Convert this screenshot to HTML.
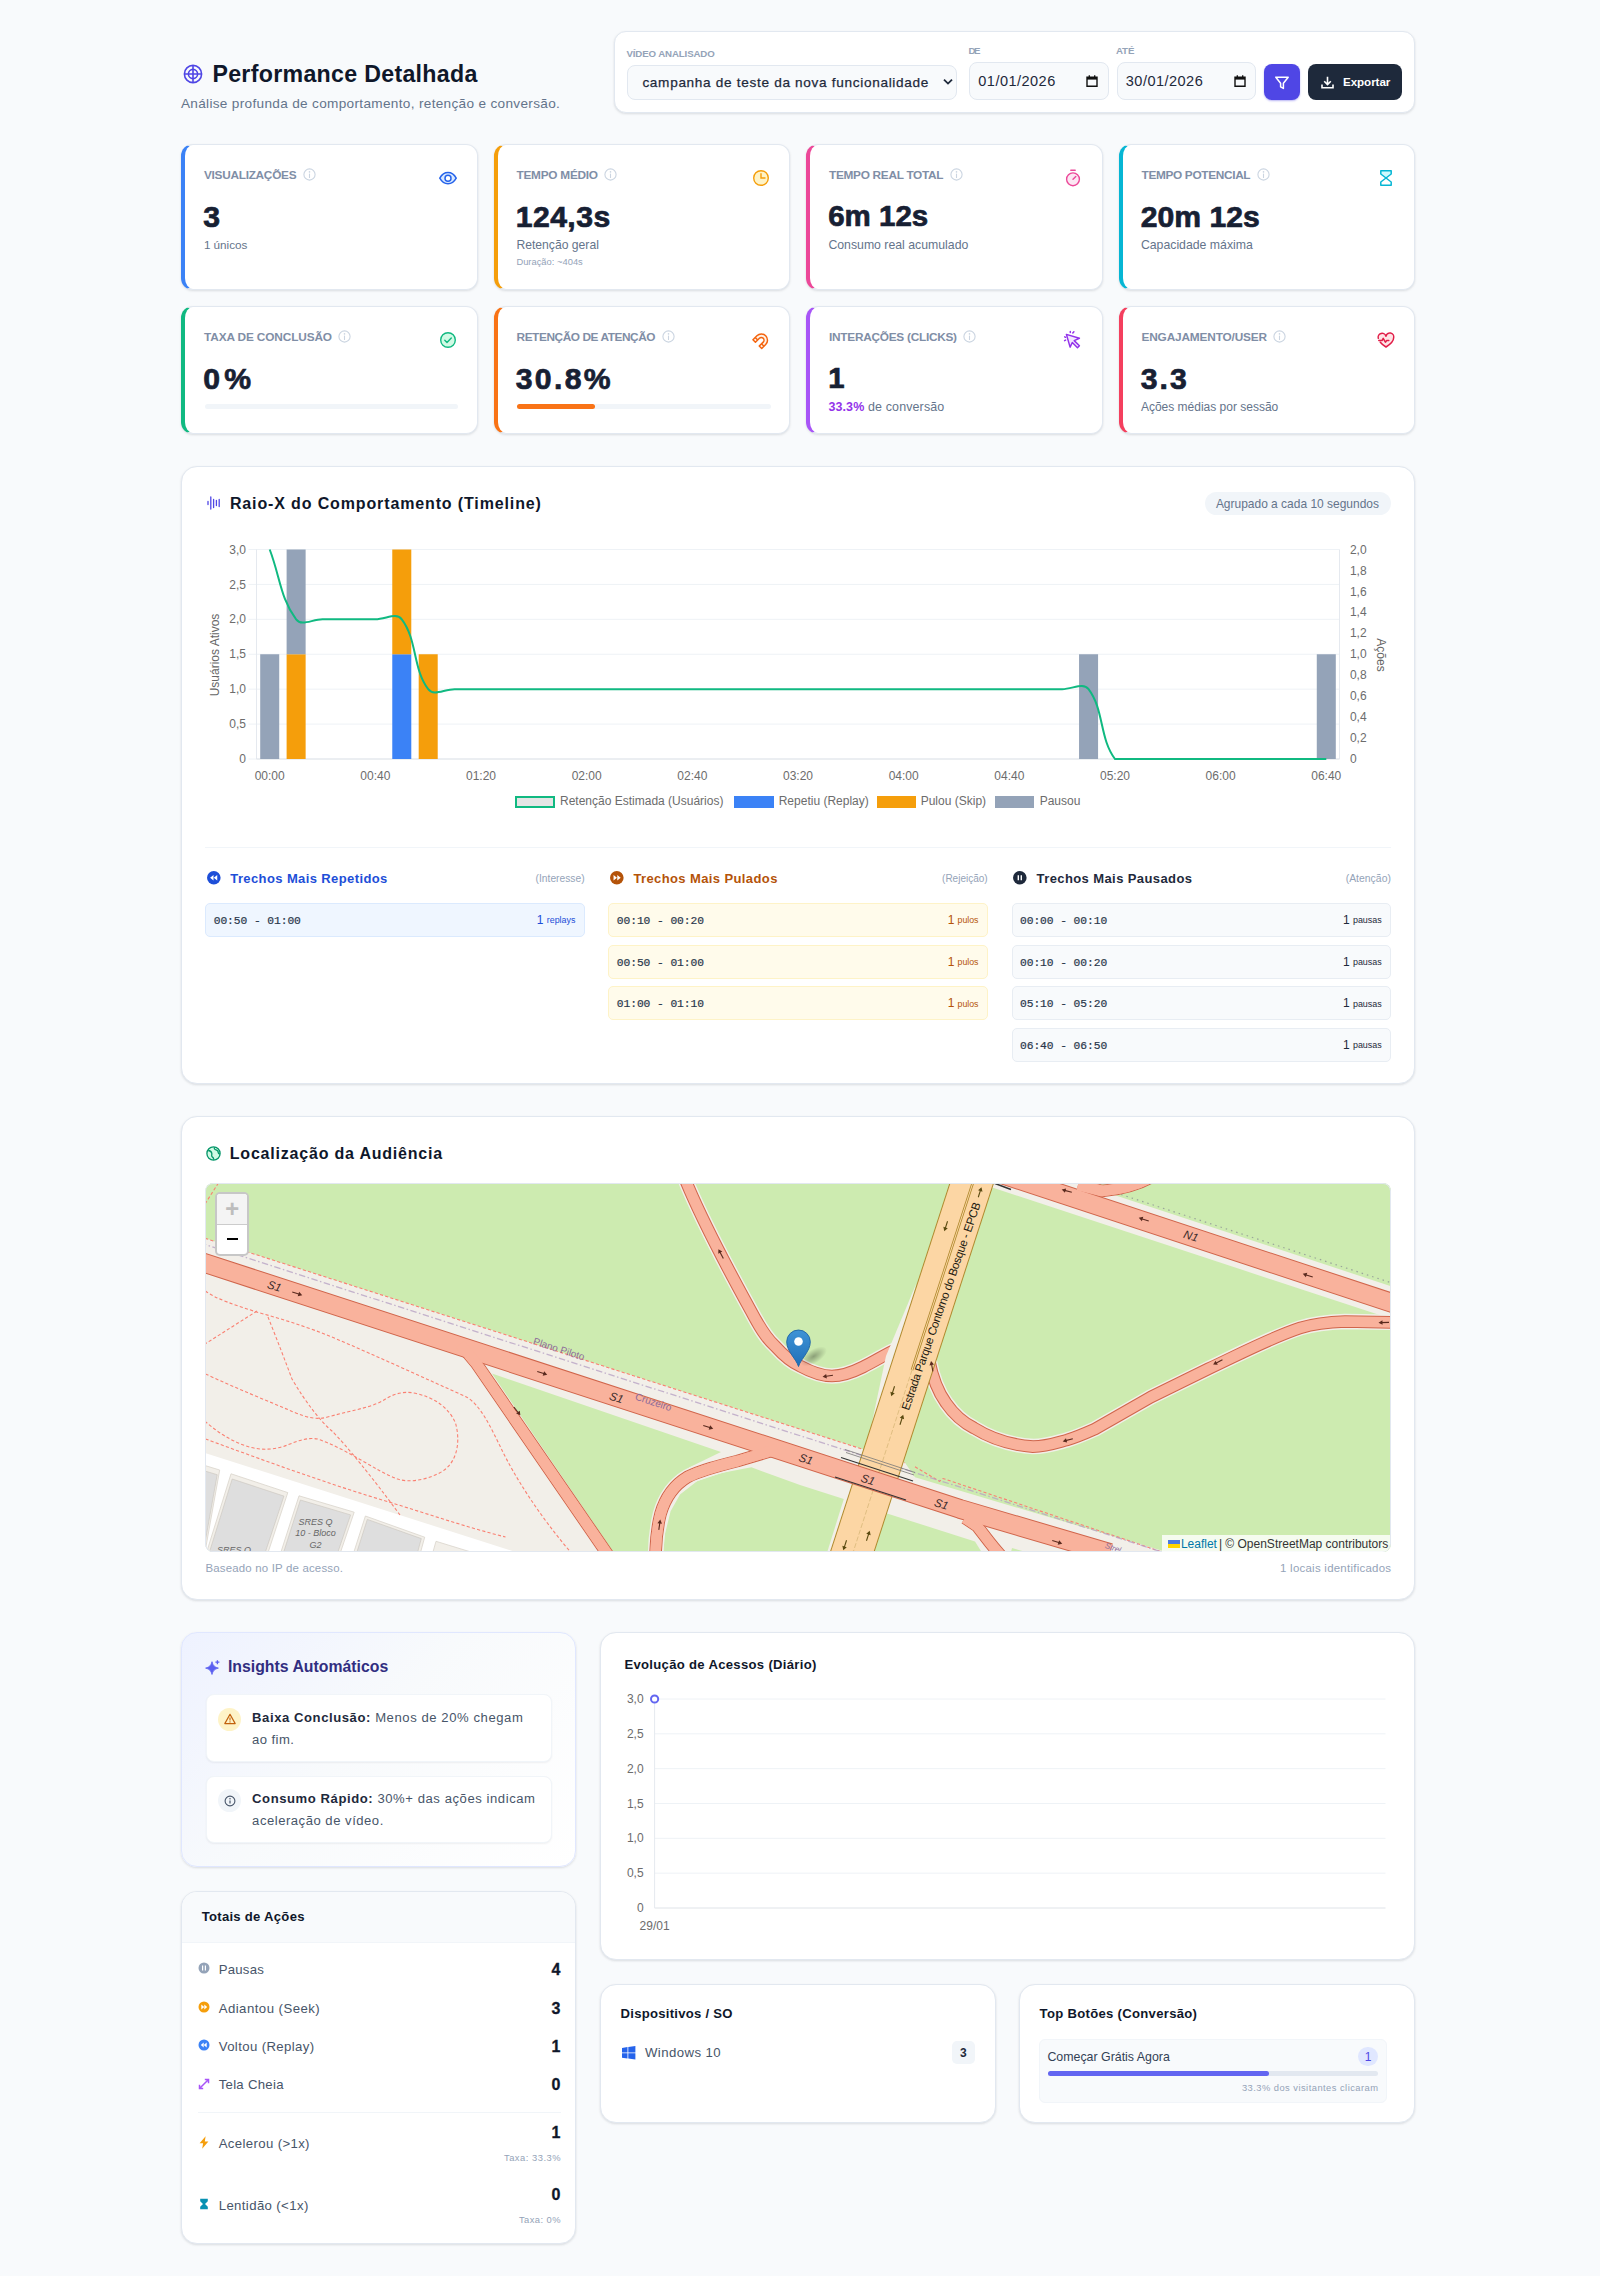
<!DOCTYPE html>
<html lang="pt-BR"><head><meta charset="utf-8"><title>Performance Detalhada</title>
<style>
html,body{margin:0;padding:0}
body{width:1600px;height:2276px;position:relative;overflow:hidden;background:#f8fafc;font-family:"Liberation Sans",sans-serif;color:#0f172a}
.card{position:absolute;box-sizing:border-box;background:#fff;border:1px solid #e2e8f0;box-shadow:0 1px 3px rgba(15,23,42,.08),0 1px 2px rgba(15,23,42,.05)}
svg{overflow:visible}
</style></head><body>
<svg style="position:absolute;left:183.00px;top:64.00px;" width="20" height="20" viewBox="0 0 20 20"><g fill="none" stroke="#4f46e5" stroke-width="1.6"><circle cx="10" cy="10" r="8.6"/><circle cx="10" cy="10" r="4.6"/><path d="M10 1v18M1 10h18"/></g></svg>
<div style="position:absolute;white-space:nowrap;top:58.11px;font:700 23.20px/32px 'Liberation Sans',sans-serif;color:#0f172a;letter-spacing:0.298px;left:212.40px;">Performance Detalhada</div>
<div style="position:absolute;white-space:nowrap;top:94.08px;font:400 13.60px/19px 'Liberation Sans',sans-serif;color:#64748b;letter-spacing:0.323px;left:180.90px;">Análise profunda de comportamento, retenção e conversão.</div>
<div class="card" style="left:614px;top:31px;width:801px;height:82px;border-radius:12px"></div>
<div style="position:absolute;white-space:nowrap;top:47.08px;font:700 9.70px/14px 'Liberation Sans',sans-serif;color:#94a3b8;letter-spacing:-0.120px;left:626.40px;">VÍDEO ANALISADO</div>
<div style="position:absolute;left:627.00px;top:65.00px;width:330.00px;height:35.00px;box-sizing:border-box;background:#f8fafc;border:1px solid #e2e8f0;border-radius:8px"></div>
<div style="position:absolute;white-space:nowrap;top:73.48px;font:500 13.60px/19px 'Liberation Sans',sans-serif;color:#1e293b;letter-spacing:0.686px;left:642.40px;-webkit-text-stroke:.25px #1e293b;">campanha de teste da nova funcionalidade</div>
<svg style="position:absolute;left:943.40px;top:78.40px;" width="10" height="8" viewBox="0 0 10 8"><path d="M1 1.600l4 4 4-4" fill="none" stroke="#1e293b" stroke-width="1.800"/></svg>
<div style="position:absolute;white-space:nowrap;top:44.08px;font:700 9.70px/14px 'Liberation Sans',sans-serif;color:#94a3b8;letter-spacing:-1.289px;left:968.40px;">DE</div>
<div style="position:absolute;white-space:nowrap;top:44.08px;font:700 9.70px/14px 'Liberation Sans',sans-serif;color:#94a3b8;letter-spacing:-0.094px;left:1115.90px;">ATÉ</div>
<div style="position:absolute;left:969.00px;top:62.00px;width:139.50px;height:38.00px;box-sizing:border-box;background:#f8fafc;border:1px solid #e2e8f0;border-radius:8px"></div>
<div style="position:absolute;white-space:nowrap;top:71.21px;font:400 14.56px/20px 'Liberation Sans',sans-serif;color:#1e293b;letter-spacing:0.458px;left:978.30px;">01/01/2026</div>
<svg style="position:absolute;left:1086.00px;top:75.00px;" width="12" height="12" viewBox="0 0 12 12"><path d="M1 2.2h10v9H1z" fill="none" stroke="#111" stroke-width="1.4"/><path d="M1 2h10v2.6H1z" fill="#111"/><path d="M3.3 0.3v2M8.7 0.3v2" stroke="#111" stroke-width="1.3"/></svg>
<div style="position:absolute;left:1116.50px;top:62.00px;width:139.50px;height:38.00px;box-sizing:border-box;background:#f8fafc;border:1px solid #e2e8f0;border-radius:8px"></div>
<div style="position:absolute;white-space:nowrap;top:71.21px;font:400 14.56px/20px 'Liberation Sans',sans-serif;color:#1e293b;letter-spacing:0.458px;left:1125.80px;">30/01/2026</div>
<svg style="position:absolute;left:1233.50px;top:75.00px;" width="12" height="12" viewBox="0 0 12 12"><path d="M1 2.2h10v9H1z" fill="none" stroke="#111" stroke-width="1.4"/><path d="M1 2h10v2.6H1z" fill="#111"/><path d="M3.3 0.3v2M8.7 0.3v2" stroke="#111" stroke-width="1.3"/></svg>
<div style="position:absolute;left:1264.00px;top:64.00px;width:36.00px;height:36.00px;box-sizing:border-box;background:#4f46e5;border-radius:8px;box-shadow:0 1px 2px rgba(79,70,229,.4)"></div>
<svg style="position:absolute;left:1274.00px;top:74.50px;" width="16" height="16" viewBox="0 0 16 16"><path d="M1.8 2.2h12.4L9.4 8.2v5.2l-2.8-1.6V8.2z" fill="none" stroke="#fff" stroke-width="1.5" stroke-linejoin="round"/></svg>
<div style="position:absolute;left:1308.00px;top:64.00px;width:94.00px;height:36.00px;box-sizing:border-box;background:#1e293b;border-radius:8px"></div>
<svg style="position:absolute;left:1321.00px;top:75.50px;" width="13" height="13" viewBox="0 0 13 13"><path d="M6.5 0.8v7.4M3.2 5.2l3.3 3.3 3.3-3.3" fill="none" stroke="#fff" stroke-width="1.6"/><path d="M1 8.4v3.4h11V8.4" fill="none" stroke="#fff" stroke-width="1.6"/></svg>
<div style="position:absolute;white-space:nowrap;top:73.17px;font:700 11.64px/17px 'Liberation Sans',sans-serif;color:#fff;letter-spacing:-0.068px;left:1343.00px;">Exportar</div>
<div class="card" style="left:181.00px;top:144.00px;width:296.5px;height:146.00px;border-radius:12px;border-left:4px solid #3b82f6"></div>
<div style="position:absolute;white-space:nowrap;top:167.45px;font:700 11.83px/17px 'Liberation Sans',sans-serif;color:#7f8ea6;letter-spacing:-0.284px;left:204.00px;">VISUALIZAÇÕES</div>
<svg style="position:absolute;left:302.60px;top:168.40px;" width="13" height="13" viewBox="0 0 13 13"><g fill="none" stroke="#cbd5e1" stroke-width="1.1"><circle cx="6.5" cy="6.5" r="5.6"/><path d="M6.5 6v3.4" stroke-linecap="round"/></g><circle cx="6.5" cy="3.9" r=".8" fill="#cbd5e1"/></svg>
<svg style="position:absolute;left:439.00px;top:168.60px;" width="18" height="18" viewBox="0 0 18 18"><g fill="none" stroke="#2563eb" stroke-width="1.5"><path d="M.8 9.200c2.200-4 5-5.600 8.200-5.600s6 1.600 8.200 5.600c-2.200 4-5 5.600-8.200 5.600S3 13.200.8 9.200z" fill="#dbeafe"/><circle cx="9" cy="9.200" r="3" fill="#fff"/></g></svg>
<div style="position:absolute;white-space:nowrap;top:195.52px;font:700 30.20px/42px 'Liberation Sans',sans-serif;color:#172033;left:203.20px;-webkit-text-stroke:.7px #172033;">3</div>
<div class="card" style="left:493.50px;top:144.00px;width:296.5px;height:146.00px;border-radius:12px;border-left:4px solid #f59e0b"></div>
<div style="position:absolute;white-space:nowrap;top:167.45px;font:700 11.83px/17px 'Liberation Sans',sans-serif;color:#7f8ea6;letter-spacing:-0.257px;left:516.50px;">TEMPO MÉDIO</div>
<svg style="position:absolute;left:604.10px;top:168.40px;" width="13" height="13" viewBox="0 0 13 13"><g fill="none" stroke="#cbd5e1" stroke-width="1.1"><circle cx="6.5" cy="6.5" r="5.6"/><path d="M6.5 6v3.4" stroke-linecap="round"/></g><circle cx="6.5" cy="3.9" r=".8" fill="#cbd5e1"/></svg>
<svg style="position:absolute;left:751.50px;top:168.60px;" width="18" height="18" viewBox="0 0 18 18"><g fill="none" stroke="#f59e0b" stroke-width="1.4"><circle cx="9" cy="9" r="7.300" fill="#fef3c7"/><path d="M9 4.800V9h4" stroke-linecap="round"/></g></svg>
<div style="position:absolute;white-space:nowrap;top:195.52px;font:700 30.20px/42px 'Liberation Sans',sans-serif;color:#172033;letter-spacing:0.431px;left:515.70px;-webkit-text-stroke:.7px #172033;">124,3s</div>
<div class="card" style="left:806.00px;top:144.00px;width:296.5px;height:146.00px;border-radius:12px;border-left:4px solid #ec4899"></div>
<div style="position:absolute;white-space:nowrap;top:167.45px;font:700 11.83px/17px 'Liberation Sans',sans-serif;color:#7f8ea6;letter-spacing:-0.292px;left:829.00px;">TEMPO REAL TOTAL</div>
<svg style="position:absolute;left:949.60px;top:168.40px;" width="13" height="13" viewBox="0 0 13 13"><g fill="none" stroke="#cbd5e1" stroke-width="1.1"><circle cx="6.5" cy="6.5" r="5.6"/><path d="M6.5 6v3.4" stroke-linecap="round"/></g><circle cx="6.5" cy="3.9" r=".8" fill="#cbd5e1"/></svg>
<svg style="position:absolute;left:1064.00px;top:168.60px;" width="18" height="18" viewBox="0 0 18 18"><g fill="none" stroke="#ec4899" stroke-width="1.4"><circle cx="9" cy="10.300" r="6.400" fill="#fce7f3"/><path d="M9 10.300l2.800-2.800M6.800 1.300h4.400" stroke-linecap="round"/></g></svg>
<div style="position:absolute;white-space:nowrap;top:195.27px;font:700 29.49px/42px 'Liberation Sans',sans-serif;color:#172033;left:828.20px;-webkit-text-stroke:.7px #172033;">6m 12s</div>
<div class="card" style="left:1118.50px;top:144.00px;width:296.5px;height:146.00px;border-radius:12px;border-left:4px solid #06b6d4"></div>
<div style="position:absolute;white-space:nowrap;top:167.45px;font:700 11.83px/17px 'Liberation Sans',sans-serif;color:#7f8ea6;letter-spacing:-0.330px;left:1141.50px;">TEMPO POTENCIAL</div>
<svg style="position:absolute;left:1256.60px;top:168.40px;" width="13" height="13" viewBox="0 0 13 13"><g fill="none" stroke="#cbd5e1" stroke-width="1.1"><circle cx="6.5" cy="6.5" r="5.6"/><path d="M6.5 6v3.4" stroke-linecap="round"/></g><circle cx="6.5" cy="3.9" r=".8" fill="#cbd5e1"/></svg>
<svg style="position:absolute;left:1376.50px;top:168.60px;" width="18" height="18" viewBox="0 0 18 18"><g fill="none" stroke="#06b6d4" stroke-width="1.5" stroke-linejoin="round"><path d="M3.800 1.800h10.400v3.200L9 9 3.800 5z" fill="#cffafe"/><path d="M3.800 16.200h10.400v-3.200L9 9l-5.200 4z"/></g></svg>
<div style="position:absolute;white-space:nowrap;top:195.51px;font:700 30.15px/42px 'Liberation Sans',sans-serif;color:#172033;left:1140.70px;-webkit-text-stroke:.7px #172033;">20m 12s</div>
<div class="card" style="left:181.00px;top:306.00px;width:296.5px;height:128.00px;border-radius:12px;border-left:4px solid #10b981"></div>
<div style="position:absolute;white-space:nowrap;top:329.45px;font:700 11.83px/17px 'Liberation Sans',sans-serif;color:#7f8ea6;letter-spacing:-0.128px;left:204.00px;">TAXA DE CONCLUSÃO</div>
<svg style="position:absolute;left:338.10px;top:330.40px;" width="13" height="13" viewBox="0 0 13 13"><g fill="none" stroke="#cbd5e1" stroke-width="1.1"><circle cx="6.5" cy="6.5" r="5.6"/><path d="M6.5 6v3.4" stroke-linecap="round"/></g><circle cx="6.5" cy="3.9" r=".8" fill="#cbd5e1"/></svg>
<svg style="position:absolute;left:439.00px;top:330.60px;" width="18" height="18" viewBox="0 0 18 18"><g fill="none" stroke="#10b981" stroke-width="1.4"><circle cx="9" cy="9" r="7.300" fill="#d1fae5"/><path d="M5.800 9.300l2.200 2.200 4.300-4.500" stroke-linecap="round" stroke-linejoin="round"/></g></svg>
<div style="position:absolute;white-space:nowrap;top:357.52px;font:700 30.20px/42px 'Liberation Sans',sans-serif;color:#172033;letter-spacing:4.359px;left:203.20px;-webkit-text-stroke:.7px #172033;">0%</div>
<div class="card" style="left:493.50px;top:306.00px;width:296.5px;height:128.00px;border-radius:12px;border-left:4px solid #f97316"></div>
<div style="position:absolute;white-space:nowrap;top:329.45px;font:700 11.83px/17px 'Liberation Sans',sans-serif;color:#7f8ea6;letter-spacing:-0.415px;left:516.50px;">RETENÇÃO DE ATENÇÃO</div>
<svg style="position:absolute;left:661.60px;top:330.40px;" width="13" height="13" viewBox="0 0 13 13"><g fill="none" stroke="#cbd5e1" stroke-width="1.1"><circle cx="6.5" cy="6.5" r="5.6"/><path d="M6.5 6v3.4" stroke-linecap="round"/></g><circle cx="6.5" cy="3.9" r=".8" fill="#cbd5e1"/></svg>
<svg style="position:absolute;left:751.50px;top:330.60px;" width="18" height="18" viewBox="0 0 18 18"><g transform="translate(9.300 9.200) rotate(45)" fill="#fff3e8" stroke="#f4640f" stroke-width="1.5" stroke-linejoin="round"><path d="M-6.200 5.600V0a6.200 6.200 0 0 1 12.400 0V5.600H2.700V0a2.700 2.700 0 0 0-5.400 0V5.600z"/><path d="M-6.200 2.400h3.500M2.700 2.400h3.500" fill="none"/></g></svg>
<div style="position:absolute;white-space:nowrap;top:357.52px;font:700 30.20px/42px 'Liberation Sans',sans-serif;color:#172033;letter-spacing:2.348px;left:515.70px;-webkit-text-stroke:.7px #172033;">30.8%</div>
<div class="card" style="left:806.00px;top:306.00px;width:296.5px;height:128.00px;border-radius:12px;border-left:4px solid #a855f7"></div>
<div style="position:absolute;white-space:nowrap;top:329.45px;font:700 11.83px/17px 'Liberation Sans',sans-serif;color:#7f8ea6;letter-spacing:-0.260px;left:829.00px;">INTERAÇÕES (CLICKS)</div>
<svg style="position:absolute;left:963.10px;top:330.40px;" width="13" height="13" viewBox="0 0 13 13"><g fill="none" stroke="#cbd5e1" stroke-width="1.1"><circle cx="6.5" cy="6.5" r="5.6"/><path d="M6.5 6v3.4" stroke-linecap="round"/></g><circle cx="6.5" cy="3.9" r=".8" fill="#cbd5e1"/></svg>
<svg style="position:absolute;left:1064.00px;top:330.60px;" width="18" height="18" viewBox="0 0 18 18"><g fill="none" stroke="#9333ea" stroke-width="1.5" stroke-linejoin="round" stroke-linecap="round"><path d="M2.400 3.400l13 3.800-5.200 2.400 5.200 5.200-1.900 1.900-5.200-5.200-2.200 4.600z" fill="#f3e8ff"/><path d="M6.300.6v.8M8.800 2l1.100-1.300M.7 5.800l.9.500M.6 9.600l1-.5"/></g></svg>
<div style="position:absolute;white-space:nowrap;top:357.20px;font:700 29.29px/42px 'Liberation Sans',sans-serif;color:#172033;left:828.20px;-webkit-text-stroke:.7px #172033;">1</div>
<div class="card" style="left:1118.50px;top:306.00px;width:296.5px;height:128.00px;border-radius:12px;border-left:4px solid #f43f5e"></div>
<div style="position:absolute;white-space:nowrap;top:329.45px;font:700 11.83px/17px 'Liberation Sans',sans-serif;color:#7f8ea6;letter-spacing:-0.158px;left:1141.50px;">ENGAJAMENTO/USER</div>
<svg style="position:absolute;left:1273.10px;top:330.40px;" width="13" height="13" viewBox="0 0 13 13"><g fill="none" stroke="#cbd5e1" stroke-width="1.1"><circle cx="6.5" cy="6.5" r="5.6"/><path d="M6.5 6v3.4" stroke-linecap="round"/></g><circle cx="6.5" cy="3.9" r=".8" fill="#cbd5e1"/></svg>
<svg style="position:absolute;left:1376.50px;top:330.60px;" width="18" height="18" viewBox="0 0 18 18"><g fill="none" stroke="#e11d48" stroke-width="1.5" stroke-linejoin="round" stroke-linecap="round"><path d="M1.300 7.400A3.900 3.900 0 0 1 9 5.200a3.900 3.900 0 0 1 7.700 1.400c0 4.800-7.700 9.400-7.700 9.400S5.600 14 3.300 11.200" fill="#ffe4e6"/><path d="M1.800 9.600h3.200l1.200-2.200 2.200 3.800 1.200-1.600h2.200"/></g></svg>
<div style="position:absolute;white-space:nowrap;top:357.52px;font:700 30.20px/42px 'Liberation Sans',sans-serif;color:#172033;letter-spacing:2.016px;left:1140.70px;-webkit-text-stroke:.7px #172033;">3.3</div>
<div style="position:absolute;white-space:nowrap;top:235.79px;font:500 11.68px/17px 'Liberation Sans',sans-serif;color:#64748b;left:203.90px;">1 únicos</div>
<div style="position:absolute;white-space:nowrap;top:236.96px;font:500 12.16px/17px 'Liberation Sans',sans-serif;color:#64748b;left:516.40px;">Retenção geral</div>
<div style="position:absolute;white-space:nowrap;top:256.35px;font:400 9.36px/13px 'Liberation Sans',sans-serif;color:#94a3b8;letter-spacing:0.012px;left:516.40px;">Duração: ~404s</div>
<div style="position:absolute;white-space:nowrap;top:237.00px;font:500 12.29px/17px 'Liberation Sans',sans-serif;color:#64748b;left:828.40px;">Consumo real acumulado</div>
<div style="position:absolute;white-space:nowrap;top:237.00px;font:500 12.29px/17px 'Liberation Sans',sans-serif;color:#64748b;left:1140.90px;">Capacidade máxima</div>
<div style="position:absolute;white-space:nowrap;top:399.07px;font:500 12.48px/17px 'Liberation Sans',sans-serif;color:#64748b;letter-spacing:0.129px;left:828.40px;"><b style="color:#9333ea">33.3%</b> de conversão</div>
<div style="position:absolute;white-space:nowrap;top:398.91px;font:500 12.01px/17px 'Liberation Sans',sans-serif;color:#64748b;left:1140.90px;">Ações médias por sessão</div>
<div style="position:absolute;left:204.50px;top:403.80px;width:253.50px;height:5.00px;box-sizing:border-box;background:#f1f5f9;border-radius:3px"></div>
<div style="position:absolute;left:517.00px;top:403.80px;width:253.50px;height:5.00px;box-sizing:border-box;background:#f1f5f9;border-radius:3px"></div>
<div style="position:absolute;left:517.00px;top:403.80px;width:78.00px;height:5.00px;box-sizing:border-box;background:#f97316;border-radius:3px"></div>
<div class="card" style="left:181px;top:466px;width:1234px;height:618px;border-radius:16px"></div>
<svg style="position:absolute;left:207.00px;top:495.50px;" width="14" height="14" viewBox="0 0 14 14"><g stroke="#4f46e5" stroke-width="1.3" stroke-linecap="round"><path d="M1 5.500v3M3.800 1v12M6.600 3.500v8M9.400 4.500v5M12.200 3.500v7"/></g></svg>
<div style="position:absolute;white-space:nowrap;top:492.53px;font:700 16.00px/22px 'Liberation Sans',sans-serif;color:#0f172a;letter-spacing:0.867px;left:229.90px;">Raio-X do Comportamento (Timeline)</div>
<div style="position:absolute;left:1205.00px;top:492.00px;width:186.00px;height:23.00px;box-sizing:border-box;background:#f1f5f9;border-radius:12px"></div>
<div style="position:absolute;white-space:nowrap;top:495.78px;font:500 11.97px/17px 'Liberation Sans',sans-serif;color:#64748b;left:1215.90px;">Agrupado a cada 10 segundos</div>
<svg style="position:absolute;left:0;top:0" width="1600" height="900" viewBox="0 0 1600 900"><path d="M248.5 759.00H1339.5" stroke="#eef2f6" stroke-width="1"/><path d="M248.5 724.08H1339.5" stroke="#eef2f6" stroke-width="1"/><path d="M248.5 689.17H1339.5" stroke="#eef2f6" stroke-width="1"/><path d="M248.5 654.25H1339.5" stroke="#eef2f6" stroke-width="1"/><path d="M248.5 619.33H1339.5" stroke="#eef2f6" stroke-width="1"/><path d="M248.5 584.42H1339.5" stroke="#eef2f6" stroke-width="1"/><path d="M248.5 549.50H1339.5" stroke="#eef2f6" stroke-width="1"/><path d="M256.50 549.5V759.0" stroke="#e5e9ef" stroke-width="1"/><path d="M1339.50 549.5V759.0" stroke="#e5e9ef" stroke-width="1"/><path d="M256.5 759.00H1339.5" stroke="#dfe3e8" stroke-width="1"/><rect x="260.20" y="654.25" width="19.02" height="104.75" fill="#94a3b8"/><rect x="286.61" y="654.25" width="19.02" height="104.75" fill="#f59e0b"/><rect x="286.61" y="549.50" width="19.02" height="104.75" fill="#94a3b8"/><rect x="392.27" y="654.25" width="19.02" height="104.75" fill="#3b82f6"/><rect x="392.27" y="549.50" width="19.02" height="104.75" fill="#f59e0b"/><rect x="418.69" y="654.25" width="19.02" height="104.75" fill="#f59e0b"/><rect x="1079.05" y="654.25" width="19.02" height="104.75" fill="#94a3b8"/><rect x="1316.78" y="654.25" width="19.02" height="104.75" fill="#94a3b8"/><path d="M269.71 549.50C280.27 577.43 280.51 598.70 296.12 619.33C301.64 626.63 311.97 619.33 322.54 619.33C333.10 619.33 338.39 619.33 348.95 619.33C359.52 619.33 364.80 619.33 375.37 619.33C385.93 619.33 396.26 612.03 401.78 619.33C417.39 639.97 412.59 668.53 428.20 689.17C433.72 696.47 444.04 689.17 454.61 689.17C465.18 689.17 470.46 689.17 481.02 689.17C491.59 689.17 496.87 689.17 507.44 689.17C518.00 689.17 523.29 689.17 533.85 689.17C544.42 689.17 549.70 689.17 560.27 689.17C570.83 689.17 576.12 689.17 586.68 689.17C597.25 689.17 602.53 689.17 613.10 689.17C623.66 689.17 628.95 689.17 639.51 689.17C650.08 689.17 655.36 689.17 665.93 689.17C676.49 689.17 681.78 689.17 692.34 689.17C702.91 689.17 708.19 689.17 718.76 689.17C729.32 689.17 734.60 689.17 745.17 689.17C755.74 689.17 761.02 689.17 771.59 689.17C782.15 689.17 787.43 689.17 798.00 689.17C808.57 689.17 813.85 689.17 824.41 689.17C834.98 689.17 840.26 689.17 850.83 689.17C861.40 689.17 866.68 689.17 877.24 689.17C887.81 689.17 893.09 689.17 903.66 689.17C914.22 689.17 919.51 689.17 930.07 689.17C940.64 689.17 945.92 689.17 956.49 689.17C967.05 689.17 972.34 689.17 982.90 689.17C993.47 689.17 998.75 689.17 1009.32 689.17C1019.88 689.17 1025.17 689.17 1035.73 689.17C1046.30 689.17 1051.58 689.17 1062.15 689.17C1072.71 689.17 1083.04 681.87 1088.56 689.17C1104.17 709.80 1099.37 738.37 1114.98 759.00C1120.50 759.00 1130.82 759.00 1141.39 759.00C1151.96 759.00 1157.24 759.00 1167.80 759.00C1178.37 759.00 1183.65 759.00 1194.22 759.00C1204.79 759.00 1210.07 759.00 1220.63 759.00C1231.20 759.00 1236.48 759.00 1247.05 759.00C1257.61 759.00 1262.90 759.00 1273.46 759.00C1284.03 759.00 1289.31 759.00 1299.88 759.00C1310.44 759.00 1315.73 759.00 1326.29 759.00" fill="none" stroke="#10b981" stroke-width="2"/></svg>
<div style="position:absolute;white-space:nowrap;top:751.10px;font:400 12.00px/17px 'Liberation Sans',sans-serif;color:#6c6c6c;right:1354.00px;">0</div>
<div style="position:absolute;white-space:nowrap;top:716.19px;font:400 12.00px/17px 'Liberation Sans',sans-serif;color:#6c6c6c;right:1354.00px;">0,5</div>
<div style="position:absolute;white-space:nowrap;top:681.26px;font:400 12.00px/17px 'Liberation Sans',sans-serif;color:#6c6c6c;right:1354.00px;">1,0</div>
<div style="position:absolute;white-space:nowrap;top:646.35px;font:400 12.00px/17px 'Liberation Sans',sans-serif;color:#6c6c6c;right:1354.00px;">1,5</div>
<div style="position:absolute;white-space:nowrap;top:611.44px;font:400 12.00px/17px 'Liberation Sans',sans-serif;color:#6c6c6c;right:1354.00px;">2,0</div>
<div style="position:absolute;white-space:nowrap;top:576.51px;font:400 12.00px/17px 'Liberation Sans',sans-serif;color:#6c6c6c;right:1354.00px;">2,5</div>
<div style="position:absolute;white-space:nowrap;top:541.60px;font:400 12.00px/17px 'Liberation Sans',sans-serif;color:#6c6c6c;right:1354.00px;">3,0</div>
<div style="position:absolute;white-space:nowrap;top:751.10px;font:400 12.00px/17px 'Liberation Sans',sans-serif;color:#6c6c6c;left:1349.90px;">0</div>
<div style="position:absolute;white-space:nowrap;top:730.15px;font:400 12.00px/17px 'Liberation Sans',sans-serif;color:#6c6c6c;left:1349.90px;">0,2</div>
<div style="position:absolute;white-space:nowrap;top:709.21px;font:400 12.00px/17px 'Liberation Sans',sans-serif;color:#6c6c6c;left:1349.90px;">0,4</div>
<div style="position:absolute;white-space:nowrap;top:688.26px;font:400 12.00px/17px 'Liberation Sans',sans-serif;color:#6c6c6c;left:1349.90px;">0,6</div>
<div style="position:absolute;white-space:nowrap;top:667.30px;font:400 12.00px/17px 'Liberation Sans',sans-serif;color:#6c6c6c;left:1349.90px;">0,8</div>
<div style="position:absolute;white-space:nowrap;top:646.35px;font:400 12.00px/17px 'Liberation Sans',sans-serif;color:#6c6c6c;left:1349.90px;">1,0</div>
<div style="position:absolute;white-space:nowrap;top:625.40px;font:400 12.00px/17px 'Liberation Sans',sans-serif;color:#6c6c6c;left:1349.90px;">1,2</div>
<div style="position:absolute;white-space:nowrap;top:604.46px;font:400 12.00px/17px 'Liberation Sans',sans-serif;color:#6c6c6c;left:1349.90px;">1,4</div>
<div style="position:absolute;white-space:nowrap;top:583.51px;font:400 12.00px/17px 'Liberation Sans',sans-serif;color:#6c6c6c;left:1349.90px;">1,6</div>
<div style="position:absolute;white-space:nowrap;top:562.55px;font:400 12.00px/17px 'Liberation Sans',sans-serif;color:#6c6c6c;left:1349.90px;">1,8</div>
<div style="position:absolute;white-space:nowrap;top:541.60px;font:400 12.00px/17px 'Liberation Sans',sans-serif;color:#6c6c6c;left:1349.90px;">2,0</div>
<div style="position:absolute;white-space:nowrap;top:768.30px;font:400 12.00px/17px 'Liberation Sans',sans-serif;color:#6c6c6c;left:269.71px;transform:translateX(-50%);">00:00</div>
<div style="position:absolute;white-space:nowrap;top:768.30px;font:400 12.00px/17px 'Liberation Sans',sans-serif;color:#6c6c6c;left:375.37px;transform:translateX(-50%);">00:40</div>
<div style="position:absolute;white-space:nowrap;top:768.30px;font:400 12.00px/17px 'Liberation Sans',sans-serif;color:#6c6c6c;left:481.02px;transform:translateX(-50%);">01:20</div>
<div style="position:absolute;white-space:nowrap;top:768.30px;font:400 12.00px/17px 'Liberation Sans',sans-serif;color:#6c6c6c;left:586.68px;transform:translateX(-50%);">02:00</div>
<div style="position:absolute;white-space:nowrap;top:768.30px;font:400 12.00px/17px 'Liberation Sans',sans-serif;color:#6c6c6c;left:692.34px;transform:translateX(-50%);">02:40</div>
<div style="position:absolute;white-space:nowrap;top:768.30px;font:400 12.00px/17px 'Liberation Sans',sans-serif;color:#6c6c6c;left:798.00px;transform:translateX(-50%);">03:20</div>
<div style="position:absolute;white-space:nowrap;top:768.30px;font:400 12.00px/17px 'Liberation Sans',sans-serif;color:#6c6c6c;left:903.66px;transform:translateX(-50%);">04:00</div>
<div style="position:absolute;white-space:nowrap;top:768.30px;font:400 12.00px/17px 'Liberation Sans',sans-serif;color:#6c6c6c;left:1009.32px;transform:translateX(-50%);">04:40</div>
<div style="position:absolute;white-space:nowrap;top:768.30px;font:400 12.00px/17px 'Liberation Sans',sans-serif;color:#6c6c6c;left:1114.98px;transform:translateX(-50%);">05:20</div>
<div style="position:absolute;white-space:nowrap;top:768.30px;font:400 12.00px/17px 'Liberation Sans',sans-serif;color:#6c6c6c;left:1220.63px;transform:translateX(-50%);">06:00</div>
<div style="position:absolute;white-space:nowrap;top:768.30px;font:400 12.00px/17px 'Liberation Sans',sans-serif;color:#6c6c6c;left:1326.29px;transform:translateX(-50%);">06:40</div>
<div style="position:absolute;left:215px;top:654.5px;width:0;height:0"><div style="position:absolute;white-space:nowrap;transform:translate(-50%,-50%) rotate(-90deg);font:400 12px/14px 'Liberation Sans',sans-serif;color:#666">Usuários Ativos</div></div>
<div style="position:absolute;left:1380.5px;top:654.5px;width:0;height:0"><div style="position:absolute;white-space:nowrap;transform:translate(-50%,-50%) rotate(90deg);font:400 12px/14px 'Liberation Sans',sans-serif;color:#666">Ações</div></div>
<div style="position:absolute;left:514.50px;top:796.00px;width:40.00px;height:12.40px;box-sizing:border-box;background:#e5e5e5;border:2px solid #10b981"></div>
<div style="position:absolute;white-space:nowrap;top:792.90px;font:400 12.00px/17px 'Liberation Sans',sans-serif;color:#6c6c6c;left:560.00px;">Retenção Estimada (Usuários)</div>
<div style="position:absolute;left:734.30px;top:796.00px;width:39.50px;height:12.40px;box-sizing:border-box;background:#3b82f6"></div>
<div style="position:absolute;white-space:nowrap;top:792.90px;font:400 12.00px/17px 'Liberation Sans',sans-serif;color:#6c6c6c;left:778.70px;">Repetiu (Replay)</div>
<div style="position:absolute;left:876.70px;top:796.00px;width:39.00px;height:12.40px;box-sizing:border-box;background:#f59e0b"></div>
<div style="position:absolute;white-space:nowrap;top:792.90px;font:400 12.00px/17px 'Liberation Sans',sans-serif;color:#6c6c6c;left:920.70px;">Pulou (Skip)</div>
<div style="position:absolute;left:995.30px;top:796.00px;width:38.60px;height:12.40px;box-sizing:border-box;background:#94a3b8"></div>
<div style="position:absolute;white-space:nowrap;top:792.90px;font:400 12.00px/17px 'Liberation Sans',sans-serif;color:#6c6c6c;left:1039.70px;">Pausou</div>
<div style="position:absolute;left:205.30px;top:847.00px;width:1185.70px;height:1.00px;box-sizing:border-box;background:#f1f5f9"></div>
<svg style="position:absolute;left:206.60px;top:871.30px;" width="13.6" height="13.6" viewBox="0 0 14.6 14.6"><circle cx="7.300" cy="7.300" r="7.300" fill="#1d4ed8"/><path d="M7 4.400L3.300 7.300 7 10.200zM11 4.400L7.300 7.300 11 10.200z" fill="#fff"/></svg>
<div style="position:absolute;white-space:nowrap;top:869.65px;font:700 13.00px/18px 'Liberation Sans',sans-serif;color:#1d4ed8;letter-spacing:0.389px;left:230.30px;">Trechos Mais Repetidos</div>
<div style="position:absolute;white-space:nowrap;top:872.28px;font:400 10.25px/14px 'Liberation Sans',sans-serif;color:#94a3b8;right:1015.40px;">(Interesse)</div>
<div style="position:absolute;left:205.30px;top:903.00px;width:379.30px;height:34.00px;box-sizing:border-box;background:#eff6ff;border:1px solid #dbeafe;border-radius:5px"></div>
<div style="position:absolute;white-space:nowrap;top:913.03px;font:400 11.30px/16px 'Liberation Mono',monospace;color:#2a374b;letter-spacing:-0.078px;left:213.70px;-webkit-text-stroke:.2px #2a374b;">00:50 - 01:00</div>
<div style="position:absolute;white-space:nowrap;top:914.40px;font:500 8.90px/13px 'Liberation Sans',sans-serif;color:#1d4ed8;right:1024.60px;">replays</div>
<div style="position:absolute;white-space:nowrap;top:911.90px;font:500 12.00px/17px 'Liberation Sans',sans-serif;color:#1d4ed8;right:1056.50px;">1</div>
<svg style="position:absolute;left:609.70px;top:871.30px;" width="13.6" height="13.6" viewBox="0 0 14.6 14.6"><circle cx="7.300" cy="7.300" r="7.300" fill="#b45309"/><path d="M3.800 4.400L7.500 7.300 3.800 10.200zM7.800 4.400L11.500 7.300 7.800 10.200z" fill="#fff"/></svg>
<div style="position:absolute;white-space:nowrap;top:869.65px;font:700 13.00px/18px 'Liberation Sans',sans-serif;color:#b45309;letter-spacing:0.392px;left:633.40px;">Trechos Mais Pulados</div>
<div style="position:absolute;white-space:nowrap;top:872.20px;font:400 10.03px/14px 'Liberation Sans',sans-serif;color:#94a3b8;right:612.30px;">(Rejeição)</div>
<div style="position:absolute;left:608.40px;top:903.00px;width:379.30px;height:34.00px;box-sizing:border-box;background:#fffbeb;border:1px solid #fef3c7;border-radius:5px"></div>
<div style="position:absolute;white-space:nowrap;top:913.03px;font:400 11.30px/16px 'Liberation Mono',monospace;color:#2a374b;letter-spacing:-0.078px;left:616.80px;-webkit-text-stroke:.2px #2a374b;">00:10 - 00:20</div>
<div style="position:absolute;white-space:nowrap;top:914.36px;font:500 8.78px/13px 'Liberation Sans',sans-serif;color:#b45309;right:621.50px;">pulos</div>
<div style="position:absolute;white-space:nowrap;top:911.90px;font:500 12.00px/17px 'Liberation Sans',sans-serif;color:#b45309;right:645.70px;">1</div>
<div style="position:absolute;left:608.40px;top:944.60px;width:379.30px;height:34.00px;box-sizing:border-box;background:#fffbeb;border:1px solid #fef3c7;border-radius:5px"></div>
<div style="position:absolute;white-space:nowrap;top:954.64px;font:400 11.30px/16px 'Liberation Mono',monospace;color:#2a374b;letter-spacing:-0.078px;left:616.80px;-webkit-text-stroke:.2px #2a374b;">00:50 - 01:00</div>
<div style="position:absolute;white-space:nowrap;top:955.95px;font:500 8.78px/13px 'Liberation Sans',sans-serif;color:#b45309;right:621.50px;">pulos</div>
<div style="position:absolute;white-space:nowrap;top:953.51px;font:500 12.00px/17px 'Liberation Sans',sans-serif;color:#b45309;right:645.70px;">1</div>
<div style="position:absolute;left:608.40px;top:986.20px;width:379.30px;height:34.00px;box-sizing:border-box;background:#fffbeb;border:1px solid #fef3c7;border-radius:5px"></div>
<div style="position:absolute;white-space:nowrap;top:996.23px;font:400 11.30px/16px 'Liberation Mono',monospace;color:#2a374b;letter-spacing:-0.078px;left:616.80px;-webkit-text-stroke:.2px #2a374b;">01:00 - 01:10</div>
<div style="position:absolute;white-space:nowrap;top:997.55px;font:500 8.78px/13px 'Liberation Sans',sans-serif;color:#b45309;right:621.50px;">pulos</div>
<div style="position:absolute;white-space:nowrap;top:995.10px;font:500 12.00px/17px 'Liberation Sans',sans-serif;color:#b45309;right:645.70px;">1</div>
<svg style="position:absolute;left:1012.90px;top:871.30px;" width="13.6" height="13.6" viewBox="0 0 14.6 14.6"><circle cx="7.300" cy="7.300" r="7.300" fill="#1e293b"/><path d="M5.700 4.600v5.400M8.900 4.600v5.400" stroke="#fff" stroke-width="1.500"/></svg>
<div style="position:absolute;white-space:nowrap;top:869.65px;font:700 13.00px/18px 'Liberation Sans',sans-serif;color:#1e293b;letter-spacing:0.400px;left:1036.60px;">Trechos Mais Pausados</div>
<div style="position:absolute;white-space:nowrap;top:872.33px;font:400 10.40px/14px 'Liberation Sans',sans-serif;color:#94a3b8;letter-spacing:0.026px;right:209.07px;">(Atenção)</div>
<div style="position:absolute;left:1011.60px;top:903.00px;width:379.30px;height:34.00px;box-sizing:border-box;background:#f8fafc;border:1px solid #e8edf3;border-radius:5px"></div>
<div style="position:absolute;white-space:nowrap;top:913.03px;font:400 11.30px/16px 'Liberation Mono',monospace;color:#2a374b;letter-spacing:-0.078px;left:1020.00px;-webkit-text-stroke:.2px #2a374b;">00:00 - 00:10</div>
<div style="position:absolute;white-space:nowrap;top:914.41px;font:500 8.93px/13px 'Liberation Sans',sans-serif;color:#1e293b;right:218.30px;">pausas</div>
<div style="position:absolute;white-space:nowrap;top:911.90px;font:500 12.00px/17px 'Liberation Sans',sans-serif;color:#1e293b;right:250.30px;">1</div>
<div style="position:absolute;left:1011.60px;top:944.60px;width:379.30px;height:34.00px;box-sizing:border-box;background:#f8fafc;border:1px solid #e8edf3;border-radius:5px"></div>
<div style="position:absolute;white-space:nowrap;top:954.64px;font:400 11.30px/16px 'Liberation Mono',monospace;color:#2a374b;letter-spacing:-0.078px;left:1020.00px;-webkit-text-stroke:.2px #2a374b;">00:10 - 00:20</div>
<div style="position:absolute;white-space:nowrap;top:956.00px;font:500 8.93px/13px 'Liberation Sans',sans-serif;color:#1e293b;right:218.30px;">pausas</div>
<div style="position:absolute;white-space:nowrap;top:953.51px;font:500 12.00px/17px 'Liberation Sans',sans-serif;color:#1e293b;right:250.30px;">1</div>
<div style="position:absolute;left:1011.60px;top:986.20px;width:379.30px;height:34.00px;box-sizing:border-box;background:#f8fafc;border:1px solid #e8edf3;border-radius:5px"></div>
<div style="position:absolute;white-space:nowrap;top:996.23px;font:400 11.30px/16px 'Liberation Mono',monospace;color:#2a374b;letter-spacing:-0.078px;left:1020.00px;-webkit-text-stroke:.2px #2a374b;">05:10 - 05:20</div>
<div style="position:absolute;white-space:nowrap;top:997.61px;font:500 8.93px/13px 'Liberation Sans',sans-serif;color:#1e293b;right:218.30px;">pausas</div>
<div style="position:absolute;white-space:nowrap;top:995.10px;font:500 12.00px/17px 'Liberation Sans',sans-serif;color:#1e293b;right:250.30px;">1</div>
<div style="position:absolute;left:1011.60px;top:1027.80px;width:379.30px;height:34.00px;box-sizing:border-box;background:#f8fafc;border:1px solid #e8edf3;border-radius:5px"></div>
<div style="position:absolute;white-space:nowrap;top:1037.84px;font:400 11.30px/16px 'Liberation Mono',monospace;color:#2a374b;letter-spacing:-0.078px;left:1020.00px;-webkit-text-stroke:.2px #2a374b;">06:40 - 06:50</div>
<div style="position:absolute;white-space:nowrap;top:1039.20px;font:500 8.93px/13px 'Liberation Sans',sans-serif;color:#1e293b;right:218.30px;">pausas</div>
<div style="position:absolute;white-space:nowrap;top:1036.71px;font:500 12.00px/17px 'Liberation Sans',sans-serif;color:#1e293b;right:250.30px;">1</div>
<div class="card" style="left:181px;top:1116px;width:1234px;height:484px;border-radius:16px"></div>
<svg style="position:absolute;left:206.40px;top:1146.00px;" width="15" height="15" viewBox="0 0 15 15"><g fill="none" stroke="#059669" stroke-width="1.3"><circle cx="7.500" cy="7.500" r="6.600" fill="#d1fae5"/><path d="M2.200 4.500c2 .2 3.300 1.200 3.600 2.800.3 1.500-.6 2.300.2 3.300.600.800 1.600.600 1.800 3.200M8.500 1.200c-.600 1.500.2 2.400 1.500 2.700 1.400.3 2.300 1 2.200 2.600 0 .900.800 1.400 1.700 1.600"/></g></svg>
<div style="position:absolute;white-space:nowrap;top:1142.94px;font:700 16.00px/22px 'Liberation Sans',sans-serif;color:#0f172a;letter-spacing:0.794px;left:229.80px;">Localização da Audiência</div>
<div style="position:absolute;white-space:nowrap;top:1561.00px;font:400 11.44px/15px 'Liberation Sans',sans-serif;color:#94a3b8;letter-spacing:0.184px;left:205.40px;">Baseado no IP de acesso.</div>
<div style="position:absolute;white-space:nowrap;top:1561.00px;font:400 11.44px/15px 'Liberation Sans',sans-serif;color:#94a3b8;letter-spacing:0.258px;right:208.74px;">1 locais identificados</div>
<svg style="position:absolute;left:0;top:0" width="1600" height="1600" viewBox="0 0 1600 1600"><defs><clipPath id="mc"><rect x="205.3" y="1183" width="1185.7" height="369" rx="8"/></clipPath><radialGradient id="sh" cx="50%" cy="50%" r="50%"><stop offset="0" stop-color="#000" stop-opacity=".32"/><stop offset="1" stop-color="#000" stop-opacity="0"/></radialGradient><linearGradient id="pin" x1="0" y1="0" x2="0" y2="1"><stop offset="0" stop-color="#3f93d6"/><stop offset="1" stop-color="#1f6fb8"/></linearGradient></defs><g clip-path="url(#mc)"><rect x="205.3" y="1183" width="1185.7" height="369" fill="#cdebb0"/><polygon points="200.0,1236.7 905.0,1462.8 915.0,1477.3 1180.0,1556.0 200.0,1560.0" fill="#f2efe9"/><polygon points="492.0,1373.5 721.0,1452.0 689.5,1467.3 668.8,1488.8 655.7,1507.6 650.0,1534.0 649.0,1556.0 616.0,1556.0" fill="#cdebb0"/><polygon points="663.0,1556.0 665.0,1534.0 670.6,1511.3 680.0,1494.5 697.0,1481.3 721.4,1472.9 751.4,1467.3 800.0,1485.0 843.8,1499.0 826.0,1556.0" fill="#cdebb0"/><polygon points="885.5,1513.0 975.0,1541.4 984.0,1556.0 872.5,1556.0" fill="#cdebb0"/><polygon points="1012.0,1548.0 1040.0,1556.0 1010.0,1556.0" fill="#cdebb0"/><polygon points="200,1451.3 520,1553.4 520,1560 200,1560" fill="#fff"/><polygon points="190,1461 219.7,1470 200,1580 160,1580" fill="#f2efe9" stroke="#d9d4cc" stroke-width=".8"/><polygon points="190.2,1466.6 217.2,1474.7 199.3,1574.8 162.9,1574.8" fill="#dedede" stroke="#c9c4bc" stroke-width=".6"/><polygon points="231,1473.8 287.8,1492.6 259,1580 198,1580" fill="#f2efe9" stroke="#d9d4cc" stroke-width=".8"/><polygon points="232.2,1479.0 283.9,1496.1 257.6,1575.6 202.1,1575.6" fill="#dedede" stroke="#c9c4bc" stroke-width=".6"/><polygon points="299,1495.8 354.2,1512.2 331,1580 272,1580" fill="#f2efe9" stroke="#d9d4cc" stroke-width=".8"/><polygon points="300.4,1500.0 350.6,1514.9 329.5,1576.6 275.8,1576.6" fill="#dedede" stroke="#c9c4bc" stroke-width=".6"/><polygon points="365.4,1516 424.7,1537.2 413,1580 345,1580" fill="#f2efe9" stroke="#d9d4cc" stroke-width=".8"/><polygon points="367.3,1519.4 421.3,1538.6 410.7,1577.6 348.8,1577.6" fill="#dedede" stroke="#c9c4bc" stroke-width=".6"/><polygon points="436,1541.300 520,1567 520,1580 425,1580" fill="#f2efe9" stroke="#d9d4cc" stroke-width=".8"/><path d="M218.400 1183L205 1204" fill="none" stroke="#fa8072" stroke-width="1.1" stroke-dasharray="3.2 2.200"/><path d="M200 1236.700L905 1462.8" fill="none" stroke="#fa8072" stroke-width="1.1" stroke-dasharray="3.2 2.200"/><path d="M205.500 1291c10 8 30 14 51 21 18 5 50 14 80 27 40 17 90 40 130 58 14 8 24 30 34 50 14 30 40 70 70 105" fill="none" stroke="#fa8072" stroke-width="1.1" stroke-dasharray="3.2 2.200"/><path d="M257 1311l-52 33" fill="none" stroke="#fa8072" stroke-width="1.1" stroke-dasharray="3.2 2.200"/><path d="M268 1317c8 20 18 46 24 62 14 24 30 44 40 52 14 14 40 46 68 84" fill="none" stroke="#fa8072" stroke-width="1.1" stroke-dasharray="3.2 2.200"/><path d="M205.500 1374c30 14 60 26 88 38 14 6 24 8 34 5 30-8 46-10 58-18 8-5 18-8 28-6 22 4 36 16 42 30 6 22 0 42-16 50-14 7-30 10-42 6-22-8-50-30-80-40-10-2-20 2-30 6-10 4-24 6-38 2-28-8-52-30-76-58" fill="none" stroke="#fa8072" stroke-width="1.1" stroke-dasharray="3.2 2.200"/><path d="M205.500 1439c60 22 120 44 180 62 40 12 80 26 120 36" fill="none" stroke="#fa8072" stroke-width="1.1" stroke-dasharray="3.2 2.200"/><path d="M915 1466.8L939.500 1481.300 943 1478.500 1100 1531 1165 1553" fill="none" stroke="#fa8072" stroke-width="1.1" stroke-dasharray="3.2 2.200"/><path d="M200 1242.800L1160 1551.4" fill="none" stroke="#b8a3c4" stroke-width="1.300" stroke-dasharray="6.500 2.500 1.500 2.500" opacity=".8"/><path d="M1095 1186L1395 1284" fill="none" stroke="#9aa59a" stroke-width="1.2" stroke-dasharray="1.500 4"/><path d="M985 1168.700L1400 1305.500" fill="none" stroke="#f2efe9" stroke-width="31" stroke-linejoin="round" /><path d="M683 1174C698 1212 724 1262 751 1311C760 1328 766 1338 775 1346C784 1356 791 1362 800 1366C811 1372 821 1376 832 1376C843 1376 853 1372 863 1367C875 1361 886 1354 897 1349L915 1341" fill="none" stroke="#f2efe9" stroke-width="15.5" stroke-linejoin="round" /><path d="M929 1360C933 1380 938 1392 946 1403C955 1416 964 1423 974 1428C990 1438 1010 1445 1033 1446.600C1046 1446.600 1056 1443 1067 1440C1077 1437 1086 1433 1095 1429L1151 1397 1208 1369C1240 1354 1270 1338 1300 1328C1316 1323 1330 1322 1345 1321.500L1400 1322.500" fill="none" stroke="#f2efe9" stroke-width="15.5" stroke-linejoin="round" /><path d="M655.500 1560c0-16 2-34 5-46 4-14 12-28 27-37 14-7 30-11 50-16l40-12" fill="none" stroke="#f2efe9" stroke-width="15.5" stroke-linejoin="round" /><path d="M683 1174C698 1212 724 1262 751 1311C760 1328 766 1338 775 1346C784 1356 791 1362 800 1366C811 1372 821 1376 832 1376C843 1376 853 1372 863 1367C875 1361 886 1354 897 1349L915 1341" fill="none" stroke="#d0654b" stroke-width="12.6" stroke-linejoin="round" /><path d="M929 1360C933 1380 938 1392 946 1403C955 1416 964 1423 974 1428C990 1438 1010 1445 1033 1446.600C1046 1446.600 1056 1443 1067 1440C1077 1437 1086 1433 1095 1429L1151 1397 1208 1369C1240 1354 1270 1338 1300 1328C1316 1323 1330 1322 1345 1321.500L1400 1322.500" fill="none" stroke="#d0654b" stroke-width="12.6" stroke-linejoin="round" /><path d="M460 1344L476 1363L606 1552l8 12" fill="none" stroke="#d0654b" stroke-width="12.6" stroke-linejoin="round" /><path d="M655.500 1560c0-16 2-34 5-46 4-14 12-28 27-37 14-7 30-11 50-16l40-12" fill="none" stroke="#d0654b" stroke-width="12.6" stroke-linejoin="round" /><path d="M965 1518l12 8c8 10 16 22 28 34" fill="none" stroke="#d0654b" stroke-width="12.6" stroke-linejoin="round" /><path d="M1158 1173C1142 1184 1124 1189 1102 1191L1078 1185" fill="none" stroke="#d0654b" stroke-width="12.6" stroke-linejoin="round" /><path d="M683 1174C698 1212 724 1262 751 1311C760 1328 766 1338 775 1346C784 1356 791 1362 800 1366C811 1372 821 1376 832 1376C843 1376 853 1372 863 1367C875 1361 886 1354 897 1349L915 1341" fill="none" stroke="#f9b29c" stroke-width="10.6" stroke-linejoin="round" /><path d="M929 1360C933 1380 938 1392 946 1403C955 1416 964 1423 974 1428C990 1438 1010 1445 1033 1446.600C1046 1446.600 1056 1443 1067 1440C1077 1437 1086 1433 1095 1429L1151 1397 1208 1369C1240 1354 1270 1338 1300 1328C1316 1323 1330 1322 1345 1321.500L1400 1322.500" fill="none" stroke="#f9b29c" stroke-width="10.6" stroke-linejoin="round" /><path d="M460 1344L476 1363L606 1552l8 12" fill="none" stroke="#f9b29c" stroke-width="10.6" stroke-linejoin="round" /><path d="M655.500 1560c0-16 2-34 5-46 4-14 12-28 27-37 14-7 30-11 50-16l40-12" fill="none" stroke="#f9b29c" stroke-width="10.6" stroke-linejoin="round" /><path d="M965 1518l12 8c8 10 16 22 28 34" fill="none" stroke="#f9b29c" stroke-width="10.6" stroke-linejoin="round" /><path d="M1158 1173C1142 1184 1124 1189 1102 1191L1078 1185" fill="none" stroke="#f9b29c" stroke-width="10.6" stroke-linejoin="round" /><polygon points="916.5,1283 886,1356 867,1446 874,1446" fill="#f2efe9"/><path d="M976 1170L848 1565" fill="none" stroke="#b08a2e" stroke-width="42.5" stroke-linejoin="round" /><path d="M976 1170L848 1565" fill="none" stroke="#fcd6a4" stroke-width="40.5" stroke-linejoin="round" /><path d="M977 1170L912 1370" fill="none" stroke="#b08a2e" stroke-width="2.6" stroke-linejoin="round" /><path d="M977 1170L912 1370" fill="none" stroke="#fcd6a4" stroke-width="1" stroke-linejoin="round" /><path d="M912 1370L849 1565" fill="none" stroke="#d8b878" stroke-width="0.8" stroke-linejoin="round" stroke-dasharray="5 2"/><path d="M195 1259.9L960 1508.9 L1110 1553" fill="none" stroke="#d0654b" stroke-width="19.8" stroke-linejoin="round" /><path d="M985 1168.700L1400 1305.500" fill="none" stroke="#d0654b" stroke-width="19.8" stroke-linejoin="round" /><path d="M195 1259.9L960 1508.9 L1110 1553" fill="none" stroke="#f9b29c" stroke-width="17.8" stroke-linejoin="round" /><path d="M985 1168.700L1400 1305.500" fill="none" stroke="#f9b29c" stroke-width="17.8" stroke-linejoin="round" /><path d="M460 1344L476 1363L606 1552l8 12" fill="none" stroke="#f9b29c" stroke-width="10.6" stroke-linejoin="round" /><path d="M655.500 1560c0-16 2-34 5-46 4-14 12-28 27-37 14-7 30-11 50-16l40-12" fill="none" stroke="#f9b29c" stroke-width="10.6" stroke-linejoin="round" /><path d="M965 1518l12 8c8 10 16 22 28 34" fill="none" stroke="#f9b29c" stroke-width="10.6" stroke-linejoin="round" /><path d="M1158 1173C1142 1184 1124 1189 1102 1191L1078 1185" fill="none" stroke="#f9b29c" stroke-width="10.6" stroke-linejoin="round" /><path d="M841 1457.500L913 1481" fill="none" stroke="#333" stroke-width="1.3" stroke-linejoin="round" /><path d="M835 1477L906 1500" fill="none" stroke="#333" stroke-width="1.3" stroke-linejoin="round" /><path d="M993.800 1183L1011 1189.500" fill="none" stroke="#333" stroke-width="1.5" stroke-linejoin="round" /><path d="M845 1449.500L915 1472.500" fill="none" stroke="#777" stroke-width="0.8" stroke-linejoin="round" /><path d="M846 1452.500L914 1475" fill="none" stroke="#777" stroke-width="0.8" stroke-linejoin="round" /><g transform="translate(297 1293.5) rotate(18)"><path d="M-5 0H3.500" stroke="#5a2a1e" stroke-width="1.100"/><path d="M5.500 0L1.500-2.300V2.300z" fill="#5a2a1e"/></g><g transform="translate(542 1373) rotate(18)"><path d="M-5 0H3.500" stroke="#5a2a1e" stroke-width="1.100"/><path d="M5.500 0L1.500-2.300V2.300z" fill="#5a2a1e"/></g><g transform="translate(708 1427) rotate(18)"><path d="M-5 0H3.500" stroke="#5a2a1e" stroke-width="1.100"/><path d="M5.500 0L1.500-2.300V2.300z" fill="#5a2a1e"/></g><g transform="translate(1057 1542) rotate(18)"><path d="M-5 0H3.500" stroke="#5a2a1e" stroke-width="1.100"/><path d="M5.500 0L1.500-2.300V2.300z" fill="#5a2a1e"/></g><g transform="translate(517 1411) rotate(52)"><path d="M-5 0H3.500" stroke="#5a2a1e" stroke-width="1.100"/><path d="M5.500 0L1.500-2.300V2.300z" fill="#5a2a1e"/></g><g transform="translate(659.5 1525) rotate(-82)"><path d="M-5 0H3.500" stroke="#5a2a1e" stroke-width="1.100"/><path d="M5.500 0L1.500-2.300V2.300z" fill="#5a2a1e"/></g><g transform="translate(721 1254) rotate(-118)"><path d="M-5 0H3.500" stroke="#5a2a1e" stroke-width="1.100"/><path d="M5.500 0L1.500-2.300V2.300z" fill="#5a2a1e"/></g><g transform="translate(828 1376) rotate(172)"><path d="M-5 0H3.500" stroke="#5a2a1e" stroke-width="1.100"/><path d="M5.500 0L1.500-2.300V2.300z" fill="#5a2a1e"/></g><g transform="translate(1068 1440) rotate(165)"><path d="M-5 0H3.500" stroke="#5a2a1e" stroke-width="1.100"/><path d="M5.500 0L1.500-2.300V2.300z" fill="#5a2a1e"/></g><g transform="translate(1218 1362) rotate(152)"><path d="M-5 0H3.500" stroke="#5a2a1e" stroke-width="1.100"/><path d="M5.500 0L1.500-2.300V2.300z" fill="#5a2a1e"/></g><g transform="translate(1384 1322.5) rotate(178)"><path d="M-5 0H3.500" stroke="#5a2a1e" stroke-width="1.100"/><path d="M5.500 0L1.500-2.300V2.300z" fill="#5a2a1e"/></g><g transform="translate(1144 1219.5) rotate(198)"><path d="M-5 0H3.500" stroke="#5a2a1e" stroke-width="1.100"/><path d="M5.500 0L1.500-2.300V2.300z" fill="#5a2a1e"/></g><g transform="translate(1308 1275.5) rotate(198)"><path d="M-5 0H3.500" stroke="#5a2a1e" stroke-width="1.100"/><path d="M5.500 0L1.500-2.300V2.300z" fill="#5a2a1e"/></g><g transform="translate(1067 1191) rotate(195)"><path d="M-5 0H3.500" stroke="#5a2a1e" stroke-width="1.100"/><path d="M5.500 0L1.500-2.300V2.300z" fill="#5a2a1e"/></g><g transform="translate(946 1226) rotate(108)"><path d="M-5 0H3.500" stroke="#5a4a10" stroke-width="1.100"/><path d="M5.500 0L1.500-2.300V2.300z" fill="#5a4a10"/></g><g transform="translate(979.8 1192.5) rotate(-72)"><path d="M-5 0H3.500" stroke="#5a4a10" stroke-width="1.100"/><path d="M5.500 0L1.500-2.300V2.300z" fill="#5a4a10"/></g><g transform="translate(893 1391) rotate(108)"><path d="M-5 0H3.500" stroke="#5a4a10" stroke-width="1.100"/><path d="M5.500 0L1.500-2.300V2.300z" fill="#5a4a10"/></g><g transform="translate(901.5 1420) rotate(-72)"><path d="M-5 0H3.500" stroke="#5a4a10" stroke-width="1.100"/><path d="M5.500 0L1.500-2.300V2.300z" fill="#5a4a10"/></g><g transform="translate(868 1536) rotate(-72)"><path d="M-5 0H3.500" stroke="#5a4a10" stroke-width="1.100"/><path d="M5.500 0L1.500-2.300V2.300z" fill="#5a4a10"/></g><g transform="translate(845 1545) rotate(108)"><path d="M-5 0H3.500" stroke="#5a4a10" stroke-width="1.100"/><path d="M5.500 0L1.500-2.300V2.300z" fill="#5a4a10"/></g><g transform="translate(932 1366.5) rotate(-100)"><path d="M-5 0H3.500" stroke="#5a2a1e" stroke-width="1.100"/><path d="M5.500 0L1.500-2.300V2.300z" fill="#5a2a1e"/></g><text transform="translate(274.5 1286) rotate(18)" text-anchor="middle" font-family="'Liberation Sans',sans-serif" font-size="11.5" font-style="italic" font-weight="400" fill="#3a2a2a" letter-spacing="0" dominant-baseline="central">S1</text><text transform="translate(616.5 1397.5) rotate(18)" text-anchor="middle" font-family="'Liberation Sans',sans-serif" font-size="11.5" font-style="italic" font-weight="400" fill="#3a2a2a" letter-spacing="0" dominant-baseline="central">S1</text><text transform="translate(806 1459) rotate(18)" text-anchor="middle" font-family="'Liberation Sans',sans-serif" font-size="11.5" font-style="italic" font-weight="400" fill="#3a2a2a" letter-spacing="0" dominant-baseline="central">S1</text><text transform="translate(868 1479.5) rotate(18)" text-anchor="middle" font-family="'Liberation Sans',sans-serif" font-size="11.5" font-style="italic" font-weight="400" fill="#3a2a2a" letter-spacing="0" dominant-baseline="central">S1</text><text transform="translate(941.5 1504) rotate(18)" text-anchor="middle" font-family="'Liberation Sans',sans-serif" font-size="11.5" font-style="italic" font-weight="400" fill="#3a2a2a" letter-spacing="0" dominant-baseline="central">S1</text><text transform="translate(1191 1236) rotate(18)" text-anchor="middle" font-family="'Liberation Sans',sans-serif" font-size="11.5" font-style="italic" font-weight="400" fill="#3a2a2a" letter-spacing="0" dominant-baseline="central">N1</text><text transform="translate(559 1349) rotate(18)" text-anchor="middle" font-family="'Liberation Sans',sans-serif" font-size="10" font-style="normal" font-weight="400" fill="#8d6b9a" letter-spacing="0" dominant-baseline="central">Plano Piloto</text><text transform="translate(653.5 1402) rotate(18)" text-anchor="middle" font-family="'Liberation Sans',sans-serif" font-size="10" font-style="normal" font-weight="400" fill="#8d6b9a" letter-spacing="0" dominant-baseline="central">Cruzeiro</text><text transform="translate(1113 1548) rotate(18)" text-anchor="middle" font-family="'Liberation Sans',sans-serif" font-size="8" font-style="italic" font-weight="400" fill="#8d6b9a" letter-spacing="0" dominant-baseline="central">Strel</text><text transform="translate(940.500 1306) rotate(-70.800)" text-anchor="middle" font-family="'Liberation Sans',sans-serif" font-size="11.6" fill="#1d1a10" textLength="219" lengthAdjust="spacing" dominant-baseline="central">Estrada Parque Contorno do Bosque - EPCB</text><text transform="translate(315.5 1521.5) rotate(0)" text-anchor="middle" font-family="'Liberation Sans',sans-serif" font-size="9" font-style="italic" font-weight="400" fill="#666" letter-spacing="0" dominant-baseline="central">SRES Q</text><text transform="translate(315.5 1533) rotate(0)" text-anchor="middle" font-family="'Liberation Sans',sans-serif" font-size="9" font-style="italic" font-weight="400" fill="#666" letter-spacing="0" dominant-baseline="central">10 - Bloco</text><text transform="translate(315.5 1544.5) rotate(0)" text-anchor="middle" font-family="'Liberation Sans',sans-serif" font-size="9" font-style="italic" font-weight="400" fill="#666" letter-spacing="0" dominant-baseline="central">G2</text><text transform="translate(234 1549.5) rotate(0)" text-anchor="middle" font-family="'Liberation Sans',sans-serif" font-size="9" font-style="italic" font-weight="400" fill="#666" letter-spacing="0" dominant-baseline="central">SRES Q</text><ellipse cx="813" cy="1356" rx="15" ry="7" fill="url(#sh)" transform="rotate(-32 814 1355)"/><path d="M798.500 1366.500c-2.200-7.500-11.800-15-11.800-24.700a11.800 11.800 0 0 1 23.600 0c0 9.700-9.600 17.200-11.800 24.700z" fill="url(#pin)" stroke="#1d63a5" stroke-width=".9"/><circle cx="798.500" cy="1341.500" r="4.300" fill="#fff"/></g></svg>
<div style="position:absolute;left:205.30px;top:1183.00px;width:1185.70px;height:369.00px;box-sizing:border-box;border:1px solid #e2e8f0;border-radius:8px"></div>
<div style="position:absolute;left:215.00px;top:1191.50px;width:34.00px;height:64.50px;box-sizing:border-box;border:2px solid rgba(0,0,0,.22);border-radius:5px;background:#fff;overflow:hidden"><div style="height:30px;background:#f4f4f4;border-bottom:1px solid #ccc"></div></div>
<div style="position:absolute;white-space:nowrap;top:1194.20px;font:700 24.00px/34px 'Liberation Sans',sans-serif;color:#bdbdbd;left:232.20px;transform:translateX(-50%);font-family:'Liberation Mono',monospace;">+</div>
<div style="position:absolute;left:226.60px;top:1237.60px;width:11.40px;height:2.00px;box-sizing:border-box;background:#000"></div>
<div style="position:absolute;left:1162.10px;top:1535.30px;width:228.40px;height:16.90px;box-sizing:border-box;background:rgba(255,255,255,.8);border-bottom-right-radius:8px"></div>
<svg style="position:absolute;left:1167.50px;top:1539.50px;" width="12" height="8" viewBox="0 0 12 8"><rect width="12" height="4" fill="#4c7be1"/><rect y="4" width="12" height="4" fill="#ffd500"/></svg>
<div style="position:absolute;white-space:nowrap;top:1535.80px;font:400 12.00px/17px 'Liberation Sans',sans-serif;color:#0078a8;left:1180.90px;">Leaflet</div>
<div style="position:absolute;white-space:nowrap;top:1535.60px;font:400 12.00px/17px 'Liberation Sans',sans-serif;color:#333;left:1218.90px;">| © OpenStreetMap contributors</div>
<div class="card" style="left:181px;top:1632px;width:395.330px;height:235px;border-radius:16px;border-color:#e0e7ff;background:linear-gradient(135deg,#eef2ff 0%,#f8fafc 45%,#fff 100%)"></div>
<svg style="position:absolute;left:205.00px;top:1658.50px;" width="16" height="16" viewBox="0 0 16 16"><path d="M7 2.700c.9 3.800 2.600 5.500 6.400 6.400-3.800.9-5.500 2.600-6.400 6.400-.9-3.800-2.600-5.500-6.400-6.400 3.800-.9 5.500-2.600 6.400-6.400z" fill="#5b5ff0" stroke="#5b5ff0" stroke-width=".8" stroke-linejoin="round"/><path d="M12.400 1.200v4M10.400 3.200h4" stroke="#5b5ff0" stroke-width="1.300"/></svg>
<div style="position:absolute;white-space:nowrap;top:1656.26px;font:700 15.80px/22px 'Liberation Sans',sans-serif;color:#312e81;letter-spacing:0.014px;left:227.90px;">Insights Automáticos</div>
<div style="position:absolute;left:206.20px;top:1694.00px;width:345.80px;height:67.70px;box-sizing:border-box;background:#fff;border:1px solid #f1f5f9;border-radius:8px;box-shadow:0 1px 2px rgba(15,23,42,.06)"></div>
<div style="position:absolute;left:218.00px;top:1707.90px;width:23.00px;height:23.00px;box-sizing:border-box;background:#fef3c7;border-radius:50%"></div>
<svg style="position:absolute;left:223.50px;top:1712.90px;" width="12" height="12" viewBox="0 0 12 12"><path d="M6 1.300L11.200 10.600H.8z" fill="none" stroke="#c2610c" stroke-width="1.200" stroke-linejoin="round"/><path d="M6 4.600v2.800" stroke="#c2610c" stroke-width="1.100"/><circle cx="6" cy="8.900" r=".7" fill="#c2610c"/></svg>
<div style="position:absolute;white-space:nowrap;top:1708.59px;font:400 13.08px/18px 'Liberation Sans',sans-serif;color:#475569;letter-spacing:0.569px;left:252.10px;"><b style="color:#1e293b">Baixa Conclusão:</b> Menos de 20% chegam</div>
<div style="position:absolute;white-space:nowrap;top:1730.59px;font:400 13.08px/18px 'Liberation Sans',sans-serif;color:#475569;letter-spacing:0.413px;left:252.10px;">ao fim.</div>
<div style="position:absolute;left:206.20px;top:1775.50px;width:345.80px;height:67.00px;box-sizing:border-box;background:#fff;border:1px solid #f1f5f9;border-radius:8px;box-shadow:0 1px 2px rgba(15,23,42,.06)"></div>
<div style="position:absolute;left:218.00px;top:1789.40px;width:23.00px;height:23.00px;box-sizing:border-box;background:#f1f5f9;border-radius:50%"></div>
<svg style="position:absolute;left:223.50px;top:1794.90px;" width="12" height="12" viewBox="0 0 12 12"><circle cx="6" cy="6" r="4.900" fill="none" stroke="#475569" stroke-width="1.100"/><path d="M6 5.500v3" stroke="#475569" stroke-width="1.200"/><circle cx="6" cy="3.700" r=".75" fill="#475569"/></svg>
<div style="position:absolute;white-space:nowrap;top:1790.09px;font:400 13.08px/18px 'Liberation Sans',sans-serif;color:#475569;letter-spacing:0.565px;left:252.10px;"><b style="color:#1e293b">Consumo Rápido:</b> 30%+ das ações indicam</div>
<div style="position:absolute;white-space:nowrap;top:1812.09px;font:400 13.08px/18px 'Liberation Sans',sans-serif;color:#475569;letter-spacing:0.514px;left:252.10px;">aceleração de vídeo.</div>
<div class="card" style="left:181px;top:1891px;width:395.330px;height:353px;border-radius:16px;overflow:hidden"><div style="height:49.500px;background:#f8fafc;border-bottom:1px solid #f1f5f9"></div></div>
<div style="position:absolute;white-space:nowrap;top:1907.90px;font:700 13.10px/18px 'Liberation Sans',sans-serif;color:#0f172a;letter-spacing:0.274px;left:201.70px;">Totais de Ações</div>
<svg style="position:absolute;left:198.30px;top:1962.00px;" width="12" height="12" viewBox="0 0 12 12"><circle cx="6" cy="6" r="5.500" fill="#94a3b8"/><path d="M4.600 3.600v4.800M7.400 3.600v4.800" stroke="#fff" stroke-width="1.200"/></svg>
<div style="position:absolute;white-space:nowrap;top:1960.73px;font:500 13.20px/18px 'Liberation Sans',sans-serif;color:#475569;letter-spacing:0.220px;left:218.70px;">Pausas</div>
<div style="position:absolute;white-space:nowrap;top:1958.73px;font:700 16.00px/22px 'Liberation Sans',sans-serif;color:#0f172a;right:1039.50px;-webkit-text-stroke:.3px #0f172a;">4</div>
<svg style="position:absolute;left:198.30px;top:2001.00px;" width="12" height="12" viewBox="0 0 12 12"><circle cx="6" cy="6" r="5.500" fill="#f59e0b"/><path d="M3.300 3.600L6.200 6 3.300 8.400zM6.300 3.600L9.200 6 6.300 8.400z" fill="#fff"/></svg>
<div style="position:absolute;white-space:nowrap;top:1999.73px;font:500 13.20px/18px 'Liberation Sans',sans-serif;color:#475569;letter-spacing:0.459px;left:218.70px;">Adiantou (Seek)</div>
<div style="position:absolute;white-space:nowrap;top:1997.73px;font:700 16.00px/22px 'Liberation Sans',sans-serif;color:#0f172a;right:1039.50px;-webkit-text-stroke:.3px #0f172a;">3</div>
<svg style="position:absolute;left:198.30px;top:2039.00px;" width="12" height="12" viewBox="0 0 12 12"><circle cx="6" cy="6" r="5.500" fill="#3b82f6"/><path d="M5.700 3.600L2.800 6 5.700 8.400zM8.700 3.600L5.800 6 8.700 8.400z" fill="#fff"/></svg>
<div style="position:absolute;white-space:nowrap;top:2037.73px;font:500 13.20px/18px 'Liberation Sans',sans-serif;color:#475569;letter-spacing:0.381px;left:218.70px;">Voltou (Replay)</div>
<div style="position:absolute;white-space:nowrap;top:2035.73px;font:700 16.00px/22px 'Liberation Sans',sans-serif;color:#0f172a;right:1039.50px;-webkit-text-stroke:.3px #0f172a;">1</div>
<svg style="position:absolute;left:198.30px;top:2077.70px;" width="12" height="12" viewBox="0 0 12 12"><path d="M1.500 10.500L10.500 1.500M6.800 1.500h3.700v3.700M1.500 6.800v3.700h3.700" fill="none" stroke="#a855f7" stroke-width="1.500"/></svg>
<div style="position:absolute;white-space:nowrap;top:2076.44px;font:500 13.20px/18px 'Liberation Sans',sans-serif;color:#475569;letter-spacing:0.276px;left:218.70px;">Tela Cheia</div>
<div style="position:absolute;white-space:nowrap;top:2074.44px;font:700 16.00px/22px 'Liberation Sans',sans-serif;color:#0f172a;right:1039.50px;-webkit-text-stroke:.3px #0f172a;">0</div>
<div style="position:absolute;left:198.00px;top:2112.00px;width:362.50px;height:1.00px;box-sizing:border-box;background:#f1f5f9"></div>
<svg style="position:absolute;left:198.30px;top:2135.50px;" width="12" height="13" viewBox="0 0 12 13"><path d="M7.600.3L1.600 7.300h3.500L4.200 12.700l6.200-7.200H6.800z" fill="#f59e0b"/></svg>
<div style="position:absolute;white-space:nowrap;top:2134.73px;font:500 13.20px/18px 'Liberation Sans',sans-serif;color:#475569;letter-spacing:0.360px;left:218.70px;">Acelerou (&gt;1x)</div>
<div style="position:absolute;white-space:nowrap;top:2122.14px;font:700 16.00px/22px 'Liberation Sans',sans-serif;color:#0f172a;right:1039.50px;-webkit-text-stroke:.3px #0f172a;">1</div>
<div style="position:absolute;white-space:nowrap;top:2151.85px;font:400 9.36px/13px 'Liberation Sans',sans-serif;color:#94a3b8;letter-spacing:0.509px;right:1038.99px;">Taxa: 33.3%</div>
<svg style="position:absolute;left:198.30px;top:2198.00px;" width="12" height="12" viewBox="0 0 12 12"><path d="M2.200.8h7.600v2.400L7 6l2.800 2.800v2.400H2.200V8.800L5 6 2.200 3.200z" fill="#0891b2"/></svg>
<div style="position:absolute;white-space:nowrap;top:2196.73px;font:500 13.20px/18px 'Liberation Sans',sans-serif;color:#475569;letter-spacing:0.378px;left:218.70px;">Lentidão (&lt;1x)</div>
<div style="position:absolute;white-space:nowrap;top:2183.53px;font:700 16.00px/22px 'Liberation Sans',sans-serif;color:#0f172a;right:1039.50px;-webkit-text-stroke:.3px #0f172a;">0</div>
<div style="position:absolute;white-space:nowrap;top:2213.76px;font:400 9.36px/13px 'Liberation Sans',sans-serif;color:#94a3b8;letter-spacing:0.455px;right:1039.04px;">Taxa: 0%</div>
<div class="card" style="left:600.330px;top:1632px;width:814.670px;height:328px;border-radius:16px"></div>
<div style="position:absolute;white-space:nowrap;top:1656.40px;font:700 13.10px/18px 'Liberation Sans',sans-serif;color:#0f172a;letter-spacing:0.310px;left:624.40px;">Evolução de Acessos (Diário)</div>
<div style="position:absolute;white-space:nowrap;top:1900.10px;font:400 12.00px/17px 'Liberation Sans',sans-serif;color:#6c6c6c;right:956.40px;">0</div>
<div style="position:absolute;white-space:nowrap;top:1865.26px;font:400 12.00px/17px 'Liberation Sans',sans-serif;color:#6c6c6c;right:956.40px;">0,5</div>
<div style="position:absolute;white-space:nowrap;top:1830.44px;font:400 12.00px/17px 'Liberation Sans',sans-serif;color:#6c6c6c;right:956.40px;">1,0</div>
<div style="position:absolute;white-space:nowrap;top:1795.60px;font:400 12.00px/17px 'Liberation Sans',sans-serif;color:#6c6c6c;right:956.40px;">1,5</div>
<div style="position:absolute;white-space:nowrap;top:1760.76px;font:400 12.00px/17px 'Liberation Sans',sans-serif;color:#6c6c6c;right:956.40px;">2,0</div>
<div style="position:absolute;white-space:nowrap;top:1725.94px;font:400 12.00px/17px 'Liberation Sans',sans-serif;color:#6c6c6c;right:956.40px;">2,5</div>
<div style="position:absolute;white-space:nowrap;top:1691.10px;font:400 12.00px/17px 'Liberation Sans',sans-serif;color:#6c6c6c;right:956.40px;">3,0</div>
<svg style="position:absolute;left:0;top:0" width="1600" height="2000" viewBox="0 0 1600 2000"><path d="M654.6 1908.00H1385.5" stroke="#dfe3e8" stroke-width="1"/><path d="M654.6 1873.17H1385.5" stroke="#eef2f6" stroke-width="1"/><path d="M654.6 1838.33H1385.5" stroke="#eef2f6" stroke-width="1"/><path d="M654.6 1803.50H1385.5" stroke="#eef2f6" stroke-width="1"/><path d="M654.6 1768.67H1385.5" stroke="#eef2f6" stroke-width="1"/><path d="M654.6 1733.83H1385.5" stroke="#eef2f6" stroke-width="1"/><path d="M654.6 1699.00H1385.5" stroke="#eef2f6" stroke-width="1"/><path d="M654.60 1699.0V1908.0" stroke="#e5e9ef" stroke-width="1"/><circle cx="654.6" cy="1699.0" r="3.600" fill="#fff" stroke="#6366f1" stroke-width="2"/></svg>
<div style="position:absolute;white-space:nowrap;top:1917.71px;font:400 12.00px/17px 'Liberation Sans',sans-serif;color:#6c6c6c;left:654.60px;transform:translateX(-50%);">29/01</div>
<div class="card" style="left:600.330px;top:1984px;width:395.330px;height:139px;border-radius:16px"></div>
<div style="position:absolute;white-space:nowrap;top:2005.40px;font:700 13.10px/18px 'Liberation Sans',sans-serif;color:#0f172a;letter-spacing:0.257px;left:620.60px;">Dispositivos / SO</div>
<svg style="position:absolute;left:622.00px;top:2045.50px;" width="13.4" height="13.4" viewBox="0 0 13.4 13.4"><path d="M0 1.900l5.500-.8v5.300H0zM6.300 1L13.400 0v6.400H6.300zM0 7.200h5.500v5.300L0 11.700zM6.300 7.200h7.100v6.400l-7.100-1z" fill="#2563eb"/></svg>
<div style="position:absolute;white-space:nowrap;top:2043.73px;font:500 13.20px/18px 'Liberation Sans',sans-serif;color:#475569;letter-spacing:0.417px;left:645.00px;">Windows 10</div>
<div style="position:absolute;left:951.60px;top:2040.90px;width:23.60px;height:22.80px;box-sizing:border-box;background:#f1f5f9;border-radius:5px"></div>
<div style="position:absolute;white-space:nowrap;top:2044.71px;font:700 12.00px/17px 'Liberation Sans',sans-serif;color:#1e293b;left:963.40px;transform:translateX(-50%);">3</div>
<div class="card" style="left:1019px;top:1984px;width:396px;height:139px;border-radius:16px"></div>
<div style="position:absolute;white-space:nowrap;top:2005.19px;font:700 13.10px/18px 'Liberation Sans',sans-serif;color:#0f172a;letter-spacing:0.301px;left:1039.60px;">Top Botões (Conversão)</div>
<div style="position:absolute;left:1039.40px;top:2039.30px;width:347.20px;height:63.40px;box-sizing:border-box;background:#f8fafc;border:1px solid #f1f5f9;border-radius:6px"></div>
<div style="position:absolute;white-space:nowrap;top:2049.04px;font:500 12.38px/17px 'Liberation Sans',sans-serif;color:#334155;left:1047.40px;">Começar Grátis Agora</div>
<div style="position:absolute;left:1358.30px;top:2046.80px;width:19.70px;height:19.70px;box-sizing:border-box;background:#e0e7ff;border-radius:50%"></div>
<div style="position:absolute;white-space:nowrap;top:2049.10px;font:500 12.00px/17px 'Liberation Sans',sans-serif;color:#4f46e5;left:1368.20px;transform:translateX(-50%);">1</div>
<div style="position:absolute;left:1048.00px;top:2070.80px;width:330.00px;height:5.60px;box-sizing:border-box;background:#e2e8f0;border-radius:3px"></div>
<div style="position:absolute;left:1048.00px;top:2070.80px;width:220.50px;height:5.60px;box-sizing:border-box;background:#6366f1;border-radius:3px"></div>
<div style="position:absolute;white-space:nowrap;top:2081.65px;font:400 9.36px/13px 'Liberation Sans',sans-serif;color:#94a3b8;letter-spacing:0.464px;right:221.54px;">33.3% dos visitantes clicaram</div>
</body></html>
